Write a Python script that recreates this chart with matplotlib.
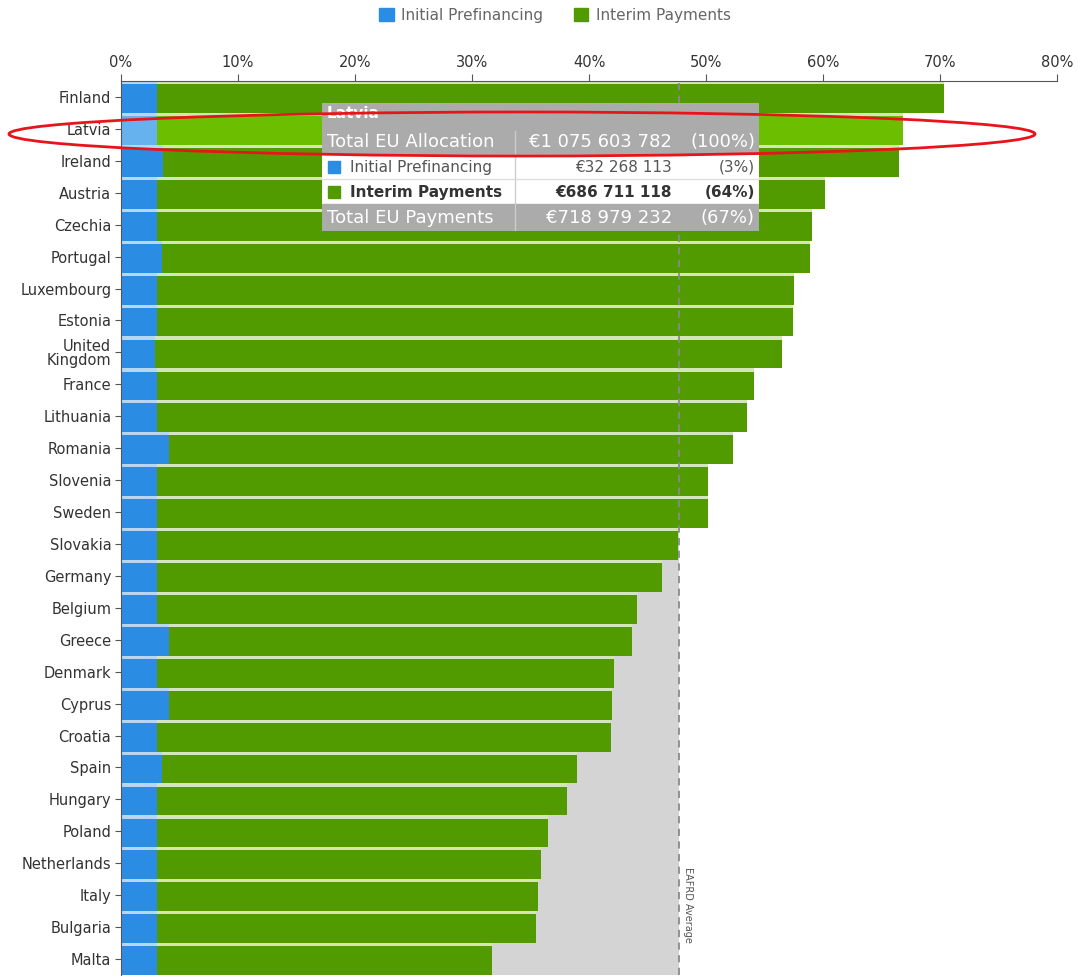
import numpy as np
import matplotlib
matplotlib.use("Agg")
import matplotlib.pyplot as plt
from matplotlib.patches import Rectangle, Ellipse

countries = ["Finland", "Latvia", "Ireland", "Austria", "Czechia", "Portugal",
             "Luxembourg", "Estonia", "United\nKingdom", "France", "Lithuania",
             "Romania", "Slovenia", "Sweden", "Slovakia", "Germany", "Belgium",
             "Greece", "Denmark", "Cyprus", "Croatia", "Spain", "Hungary",
             "Poland", "Netherlands", "Italy", "Bulgaria", "Malta"]
prefinancing = [3.1, 3.1, 3.6, 3.1, 3.1, 3.5, 3.1, 3.1, 2.9, 3.1, 3.1, 4.1, 3.1, 3.1,
                3.1, 3.1, 3.1, 4.1, 3.1, 4.1, 3.1, 3.5, 3.1, 3.1, 3.1, 3.1, 3.1, 3.1]
interim = [67.2, 63.7, 62.9, 57.1, 56.0, 55.4, 54.4, 54.3, 53.6, 51.0, 50.4, 48.2, 47.1, 47.1,
           44.5, 43.1, 41.0, 39.6, 39.0, 37.9, 38.8, 35.5, 35.0, 33.4, 32.8, 32.5, 32.4, 28.6]
eafrd_average = 47.7
highlight = "Latvia"

x_ticks = [0, 10, 20, 30, 40, 50, 60, 70, 80]

# tooltip rows: (label, amount, share)
tip_title = "Latvia"
tip_rows = [("Total EU Allocation", "€1 075 603 782", "(100%)"),
            ("Initial Prefinancing", "€32 268 113", "(3%)"),
            ("Interim Payments", "€686 711 118", "(64%)"),
            ("Total EU Payments", "€718 979 232", "(67%)")]

BLUE, GREEN = "#2a8de3", "#519b00"
BLUE_HI, GREEN_HI = "#66b2ee", "#6cbf00"
BLUE_TOP, GREEN_TOP = "#b5d7f3", "#d3e6b8"

W, H = 1078, 980
fig = plt.figure(figsize=(W / 100, H / 100), dpi=100)
ax = fig.add_axes([121 / W, 1 - 975 / H, (1057 - 121) / W, (975 - 81) / H])

n = len(countries)
y = np.arange(n)
pref = np.array(prefinancing)
inter = np.array(interim)
hl = np.array([c == highlight for c in countries])

ax.axvspan(0, eafrd_average, color="#d4d4d4", zorder=0, lw=0)

bh = 0.9
ax.barh(y + 0.05, pref, height=bh, color=np.where(hl, BLUE_HI, BLUE), zorder=2, lw=0)
ax.barh(y + 0.05, inter, left=pref, height=bh, color=np.where(hl, GREEN_HI, GREEN), zorder=2, lw=0)
# pale top edge of each bar
ax.barh(y - 0.45, pref, height=0.1, color=BLUE_TOP, zorder=2, lw=0)
ax.barh(y - 0.45, inter, left=pref, height=0.1, color=GREEN_TOP, zorder=2, lw=0)

ax.axvline(eafrd_average, color="#8a8a8a", ls=(0, (4, 3)), lw=1.3, zorder=3)
ax.text(eafrd_average + 0.35, 25.3, "EAFRD Average", rotation=270, ha="left", va="center",
        fontsize=7, color="#555555", zorder=4)

ax.set_xlim(0, 80)
ax.set_ylim(n - 0.5, -0.5)
ax.xaxis.tick_top()
ax.set_xticks(x_ticks)
ax.set_xticklabels([f"{t}%" for t in x_ticks])
ax.set_yticks(y)
ax.set_yticklabels(countries, linespacing=0.95)
ax.tick_params(axis="x", length=5, color="#555555", labelsize=10.5, labelcolor="#333333", pad=3)
ax.tick_params(axis="y", length=4, color="#555555", labelsize=10.5, labelcolor="#333333", pad=3)
for s in ["right", "bottom"]:
    ax.spines[s].set_visible(False)
ax.spines["top"].set_color("#555555")
ax.spines["left"].set_color("#555555")

handles = [Rectangle((0, 0), 1, 1, color=BLUE), Rectangle((0, 0), 1, 1, color=GREEN)]
fig.legend(handles, ["Initial Prefinancing", "Interim Payments"], loc="upper center",
           bbox_to_anchor=(0.515, 1.006), ncol=2, frameon=False, fontsize=11,
           labelcolor="#666666", handlelength=0.95, handleheight=0.95, columnspacing=2.0,
           handletextpad=0.5)

# tooltip box
tx0, ty0, tx1, ty1 = 322, 103, 759, 231
tax = fig.add_axes([tx0 / W, 1 - ty1 / H, (tx1 - tx0) / W, (ty1 - ty0) / H], zorder=5)
tw, th = tx1 - tx0, ty1 - ty0
tax.set_xlim(0, tw)
tax.set_ylim(th, 0)
tax.axis("off")
GREY = "#ababab"
tax.add_patch(Rectangle((0, 0), tw, 52, color=GREY))
tax.add_patch(Rectangle((0, 52), tw, 49, color="white"))
tax.add_patch(Rectangle((0, 101), tw, th - 101, color=GREY))
tax.plot([193, 193], [28, th], color="#cccccc", lw=1)
tax.plot([0, tw], [76, 76], color="#dddddd", lw=1)
tax.text(5, 11, tip_title, fontsize=11, color="white", fontweight="bold", va="center")
row_y = [39, 64, 89, 115]
row_style = [dict(color="white", fontsize=13, fontweight="normal"),
             dict(color="#555555", fontsize=11, fontweight="normal"),
             dict(color="#333333", fontsize=11, fontweight="bold"),
             dict(color="white", fontsize=13, fontweight="normal")]
for (label, amount, share), ry, st in zip(tip_rows, row_y, row_style):
    lx = 5
    if st["fontsize"] == 11:
        lx = 28
    tax.text(lx, ry, label, va="center", **st)
    tax.text(350, ry, amount, va="center", ha="right", **st)
    tax.text(433, ry, share, va="center", ha="right", **st)
tax.add_patch(Rectangle((6, 58), 12, 12, color=BLUE))
tax.add_patch(Rectangle((6, 83), 12, 12, color=GREEN))

ell = Ellipse((522 / W, 1 - 134 / H), 1026 / W, 44 / H, transform=fig.transFigure,
              fill=False, edgecolor="#e8141c", lw=2, zorder=10)
fig.add_artist(ell)

fig.savefig("out.png", dpi=100)
